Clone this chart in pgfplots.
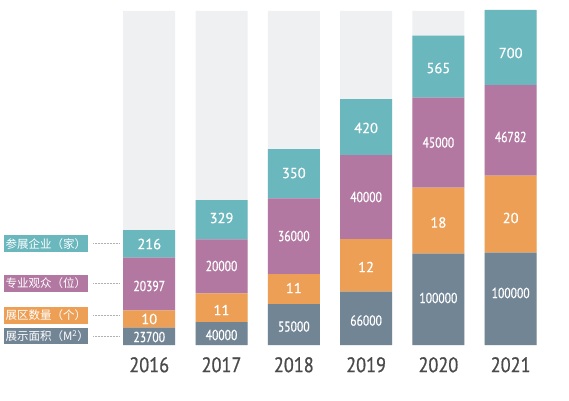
\documentclass[border=0pt]{standalone}
\usepackage{pgfplots}
\pgfplotsset{compat=1.18}
\usepackage{pgfplotstable}
\usepackage{fontspec}
\setmainfont{PT Sans}
\newfontfamily\numfont[FakeBold=0.6]{PT Sans}
\newfontfamily\numnarrow[FakeStretch=0.8,FakeBold=0.6]{PT Sans}
\newfontfamily\yearfont[FakeStretch=0.87,FakeBold=0.8]{PT Sans}
\newfontfamily\cjk{Noto Sans CJK SC}
\definecolor{cteal}{HTML}{6AB7BD}
\definecolor{cpurple}{HTML}{B278A2}
\definecolor{corange}{HTML}{EDA055}
\definecolor{cgray}{HTML}{728595}
\definecolor{cbg}{HTML}{EFF0F2}
\definecolor{cyear}{HTML}{4A4A4A}
\definecolor{cdot}{HTML}{B0B0B0}

% drawn segment heights (infographic, not to scale)
\pgfplotstableread{
x gray orange purple teal
0 17.3 17.4 52.6 27.7
1 23.0 28.7 54.0 39.3
2 41.0 30.0 75.7 49.3
3 53.3 52.7 84.0 56.0
4 91.3 66.0 90.0 62.0
5 92.3 77.0 90.7 75.0
}\segs
\pgfplotstableread{
x bg
0 334
1 334
2 334
3 334
4 334
5 334
}\bgtab
% real values: area (M2) and professional visitors
\pgfplotstableread{
x y lab
0 8 23700
0 59 20397
1 10 40000
1 79 20000
2 18.5 55000
2 109 36000
3 24.5 66000
3 148 40000
4 47 100000
4 202.5 45000
5 52 100000
5 208 46782
}\longlabs
% real values: halls and exhibitors
\pgfplotstableread{
x y lab
0 26 10
0 101 216
1 35 11
1 127 329
2 57 11
2 172 350
3 78 12
3 217 420
4 122.5 18
4 277 565
5 127 20
5 292 700
}\shortlabs

\pgfplotsset{base/.style={at={(113.1pt,55pt)}, anchor=south west,
  scale only axis, width=433.7pt, height=335pt,
  xmin=-0.5, xmax=5.5, ymin=0, ymax=335, clip=false,
  axis line style={draw=none}, tick style={draw=none},
  ytick=\empty, xtick=\empty}}

\begin{document}
\begin{tikzpicture}
\path (0,0) rectangle (569pt,400pt);
\begin{axis}[base, ybar, bar width=52pt]
\addplot[fill=cbg, draw=none] table[x=x,y=bg]{\bgtab};
\end{axis}
\begin{axis}[base, ybar stacked, bar width=52pt,
  xtick={0,1,2,3,4,5}, xticklabels={2016,2017,2018,2019,2020,2021},
  xticklabel style={font=\yearfont\fontsize{21}{21}\selectfont, text=cyear, inner sep=0pt, anchor=north, yshift=-12pt}]
\addplot[fill=cgray, draw=none] table[x=x,y=gray]{\segs};
\addplot[fill=corange, draw=none] table[x=x,y=orange]{\segs};
\addplot[fill=cpurple, draw=none] table[x=x,y=purple]{\segs};
\addplot[fill=cteal, draw=none] table[x=x,y=teal]{\segs};
\end{axis}
\begin{axis}[base]
\addplot[draw=none, mark=none, nodes near coords, point meta=explicit symbolic,
  nodes near coords align=center,
  every node near coord/.style={anchor=center, text=white, font=\numnarrow\fontsize{14.5}{14.5}\selectfont}]
  table[x=x,y=y,meta=lab]{\longlabs};
\addplot[draw=none, mark=none, nodes near coords, point meta=explicit symbolic,
  nodes near coords align=center,
  every node near coord/.style={anchor=center, text=white, font=\numfont\fontsize{14.5}{14.5}\selectfont}]
  table[x=x,y=y,meta=lab]{\shortlabs};
\end{axis}
% category key on the left
\tikzset{key/.style={anchor=west, text=white, minimum height=16.5pt, text width=80pt,
  inner xsep=2pt, inner ysep=0pt, align=left, font=\cjk\fontsize{11.5}{12}\selectfont}}
\node[key, fill=cteal]   at (3.3pt,156.3pt) {参展企业（家）};
\node[key, fill=cpurple] at (3.3pt,116.7pt) {专业观众（位）};
\node[key, fill=corange] at (3.3pt,84.7pt)  {展区数量（个）};
\node[key, fill=cgray]   at (3.3pt,64pt)    {展示面积（M\textsuperscript{2}）};
\foreach \yy in {156.3,116.7,84.7,64}
  \draw[cdot, densely dotted, line width=0.5pt] (93pt,\yy pt) -- (120pt,\yy pt);
\end{tikzpicture}
\end{document}
